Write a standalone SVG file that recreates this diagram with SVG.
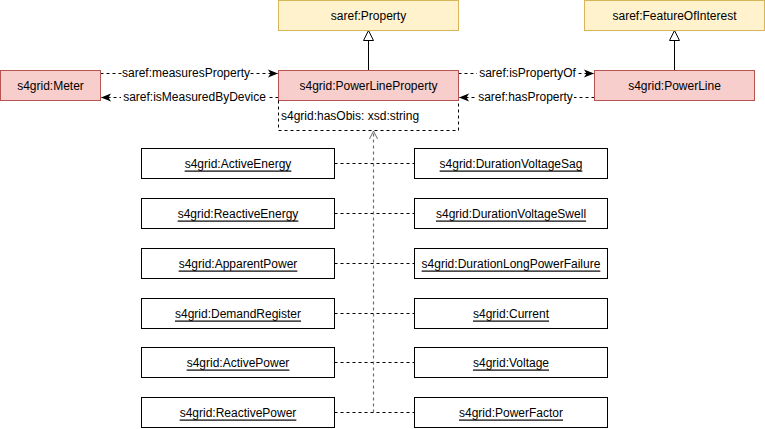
<svg xmlns="http://www.w3.org/2000/svg" width="765" height="429" viewBox="0 0 765 429">
<style>
text{font-family:"Liberation Sans",Arial,sans-serif;fill:#000}
.n{font-size:12px;text-anchor:middle;dominant-baseline:central}
.u{text-decoration:underline}
.e{font-size:12px;text-anchor:middle;dominant-baseline:central}
.y{fill:#fff2cc;stroke:#d6b656}
.r{fill:#f8cecc;stroke:#b85450}
.w{fill:#fff;stroke:#000}
.d{fill:none;stroke:#000;stroke-dasharray:3 3}
.g{fill:none;stroke:#6e6e6e;stroke-width:1.2;stroke-dasharray:3 3}
.s{fill:none;stroke:#000}
.bg{fill:#fff}
</style>
<defs>
<marker id="cl" viewBox="0 0 10 10" refX="10" refY="5" markerWidth="10" markerHeight="10" markerUnits="userSpaceOnUse" orient="auto">
<path d="M0,1 L10,5 L0,9 L2.5,5 Z" fill="#000"/>
</marker>
<marker id="tri" viewBox="0 0 12 12" refX="11" refY="6" markerWidth="12" markerHeight="12" markerUnits="userSpaceOnUse" orient="auto">
<path d="M1,1 L11,6 L1,11 Z" fill="#fff" stroke="#000"/>
</marker>
<marker id="op" viewBox="0 0 10 10" refX="9" refY="5" markerWidth="10" markerHeight="10" markerUnits="userSpaceOnUse" orient="auto">
<path d="M1,1 L9,5 L1,9" fill="none" stroke="#6e6e6e"/>
</marker>
</defs>
<g id="connectors">
<line class="s" x1="368.5" y1="70" x2="368.5" y2="30.5" marker-end="url(#tri)"/>
<line class="s" x1="674.5" y1="70" x2="674.5" y2="30.5" marker-end="url(#tri)"/>
<line class="d" x1="100.5" y1="73.5" x2="278" y2="73.5" marker-end="url(#cl)"/>
<line class="d" x1="278.5" y1="97.5" x2="101" y2="97.5" marker-end="url(#cl)"/>
<line class="d" x1="458.5" y1="73.5" x2="594" y2="73.5" marker-end="url(#cl)"/>
<line class="d" x1="594.5" y1="97.5" x2="459" y2="97.5" marker-end="url(#cl)"/>
<rect class="bg" x="122" y="66" width="128" height="14"/>
<text class="e" x="186" y="73">saref:measuresProperty</text>
<rect class="bg" x="121" y="90" width="147" height="14"/>
<text class="e" x="194.5" y="97">saref:isMeasuredByDevice</text>
<rect class="bg" x="477" y="66" width="101" height="14"/>
<text class="e" x="527.5" y="73">saref:isPropertyOf</text>
<rect class="bg" x="477" y="90" width="97" height="14"/>
<text class="e" x="525.5" y="97">saref:hasProperty</text>
<line class="d" x1="334.5" y1="163.5" x2="414.5" y2="163.5"/>
<line class="d" x1="334.5" y1="213.5" x2="414.5" y2="213.5"/>
<line class="d" x1="334.5" y1="263.5" x2="414.5" y2="263.5"/>
<line class="d" x1="334.5" y1="313.5" x2="414.5" y2="313.5"/>
<line class="d" x1="334.5" y1="362.5" x2="414.5" y2="362.5"/>
<line class="d" x1="334.5" y1="412.5" x2="414.5" y2="412.5"/>
<line class="g" x1="373.5" y1="412.5" x2="373.5" y2="131" marker-end="url(#op)"/>
</g>
<g id="property"><rect class="y" x="278.5" y="0.5" width="180" height="30"/><text class="n" x="368.5" y="15.5">saref:Property</text></g>
<g id="featureOfInterest"><rect class="y" x="584.5" y="0.5" width="180" height="30"/><text class="n" x="674.5" y="15.5">saref:FeatureOfInterest</text></g>
<g id="meter"><rect class="r" x="0.5" y="70.5" width="100" height="30"/><text class="n" x="50.5" y="85.5">s4grid:Meter</text></g>
<g id="powerLineProperty"><rect class="r" x="278.5" y="70.5" width="180" height="30"/><text class="n" x="368.5" y="85.5">s4grid:PowerLineProperty</text>
<path d="M278.5,100.5 V130.5 H458.5 V100.5" fill="none" stroke="#000" stroke-dasharray="3 3"/>
<text class="n" x="281" y="115.5" style="text-anchor:start">s4grid:hasObis: xsd:string</text></g>
<g id="powerLine"><rect class="r" x="594.5" y="70.5" width="160" height="30"/><text class="n" x="674.5" y="85.5">s4grid:PowerLine</text></g>
<g id="activeEnergy"><rect class="w" x="141.5" y="148.5" width="193" height="30"/><text class="n u" x="238" y="163.5">s4grid:ActiveEnergy</text></g>
<g id="reactiveEnergy"><rect class="w" x="141.5" y="198.5" width="193" height="30"/><text class="n u" x="238" y="213.5">s4grid:ReactiveEnergy</text></g>
<g id="apparentPower"><rect class="w" x="141.5" y="248.5" width="193" height="30"/><text class="n u" x="238" y="263.5">s4grid:ApparentPower</text></g>
<g id="demandRegister"><rect class="w" x="141.5" y="298.5" width="193" height="30"/><text class="n u" x="238" y="313.5">s4grid:DemandRegister</text></g>
<g id="activePower"><rect class="w" x="141.5" y="347.5" width="193" height="30"/><text class="n u" x="238" y="362.5">s4grid:ActivePower</text></g>
<g id="reactivePower"><rect class="w" x="141.5" y="397.5" width="193" height="30"/><text class="n u" x="238" y="412.5">s4grid:ReactivePower</text></g>
<g id="durationVoltageSag"><rect class="w" x="414.5" y="148.5" width="193" height="30"/><text class="n u" x="511" y="163.5">s4grid:DurationVoltageSag</text></g>
<g id="durationVoltageSwell"><rect class="w" x="414.5" y="198.5" width="193" height="30"/><text class="n u" x="511" y="213.5">s4grid:DurationVoltageSwell</text></g>
<g id="durationLongPowerFailure"><rect class="w" x="414.5" y="248.5" width="193" height="30"/><text class="n u" x="511" y="263.5">s4grid:DurationLongPowerFailure</text></g>
<g id="current"><rect class="w" x="414.5" y="298.5" width="193" height="30"/><text class="n u" x="511" y="313.5">s4grid:Current</text></g>
<g id="voltage"><rect class="w" x="414.5" y="347.5" width="193" height="30"/><text class="n u" x="511" y="362.5">s4grid:Voltage</text></g>
<g id="powerFactor"><rect class="w" x="414.5" y="397.5" width="193" height="30"/><text class="n u" x="511" y="412.5">s4grid:PowerFactor</text></g>
</svg>
